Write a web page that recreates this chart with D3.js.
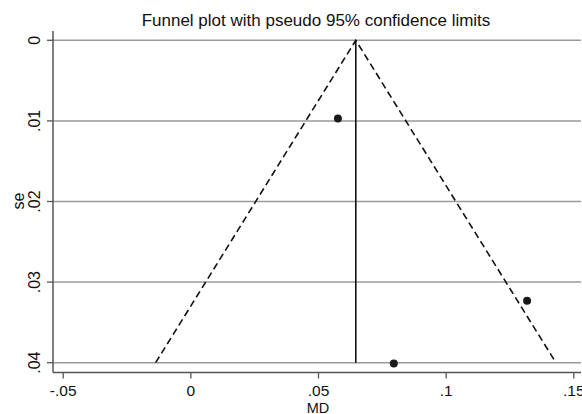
<!DOCTYPE html>
<html><head><meta charset="utf-8">
<script src="https://cdn.jsdelivr.net/npm/d3@7"></script>
<style>body{margin:0;background:#fff}svg{display:block}text{font-family:"Liberation Sans",Arial,sans-serif;fill:#111}</style>
</head><body><svg id="c" width="582" height="414"></svg>
<script>
const studyMD = [0.0578, 0.1319, 0.0797];
const studySE = [0.0097, 0.0323, 0.0401];
const pooledMD = 0.0648;
const maxSE = 0.04;
const xTicks = [-0.05, 0, 0.05, 0.1, 0.15];
const xTickLabels = ["-.05", "0", ".05", ".1", ".15"];
const yTicks = [0, 0.01, 0.02, 0.03, 0.04];
const yTickLabels = ["0", ".01", ".02", ".03", ".04"];

const svg = d3.select("#c");
const x = d3.scaleLinear().domain([-0.05, 0.15]).range([62.7, 573.3]);
const y = d3.scaleLinear().domain([0, 0.04]).range([40.3, 362.7]);
const left = 53, right = 581, axisY = 372.5, topY = 31;

// gridlines
svg.append("g").selectAll("line").data(yTicks).join("line")
  .attr("x1", left).attr("x2", right)
  .attr("y1", d => y(d)).attr("y2", d => y(d))
  .attr("stroke", "#9a9a9a").attr("stroke-width", 1.5);

// y axis
const ya = svg.append("g").attr("transform", `translate(${left},0)`)
  .call(d3.axisLeft(y).tickValues(yTicks).tickFormat((d,i)=>yTickLabels[i]).tickSize(6).tickSizeOuter(0));
ya.select(".domain").remove();
ya.selectAll(".tick").attr("transform", null);
ya.selectAll(".tick line").attr("y1", d => y(d)).attr("y2", d => y(d)).attr("x2", -6)
  .attr("stroke", "#555").attr("stroke-width", 1.3);
ya.selectAll(".tick text").attr("font-size", 16).attr("text-anchor", "middle")
  .attr("dy", null).attr("x", d => -y(d)).attr("y", -13).attr("transform", "rotate(-90)");
svg.append("line").attr("x1", left).attr("x2", left).attr("y1", topY).attr("y2", axisY)
  .attr("stroke", "#555").attr("stroke-width", 1.5);

// x axis
const xa = svg.append("g").attr("transform", `translate(0,${axisY})`)
  .call(d3.axisBottom(x).tickValues(xTicks).tickFormat((d,i)=>xTickLabels[i]).tickSize(6).tickSizeOuter(0));
xa.select(".domain").remove();
xa.selectAll("line").attr("stroke", "#555").attr("stroke-width", 1.3);
xa.selectAll("text").attr("font-size", 15.5).attr("y", 23).attr("dy", null);
svg.append("line").attr("x1", left).attr("x2", right).attr("y1", axisY).attr("y2", axisY)
  .attr("stroke", "#555").attr("stroke-width", 1.5);

// funnel
const funnel = [[pooledMD - 1.96*maxSE, maxSE], [pooledMD, 0], [pooledMD + 1.96*maxSE, maxSE]];
svg.append("path").attr("d", d3.line().x(d=>x(d[0])).y(d=>y(d[1]))(funnel))
  .attr("fill", "none").attr("stroke", "#111").attr("stroke-width", 1.6).attr("stroke-dasharray", "7,4");
svg.append("line").attr("x1", x(pooledMD)).attr("x2", x(pooledMD)).attr("y1", y(0)).attr("y2", y(maxSE))
  .attr("stroke", "#111").attr("stroke-width", 1.6);

// points
svg.append("g").selectAll("circle").data(studyMD).join("circle")
  .attr("cx", d => x(d)).attr("cy", (d,i) => y(studySE[i])).attr("r", 4).attr("fill", "#1a1a1a");

// labels
svg.append("text").attr("x", 316).attr("y", 26).attr("text-anchor", "middle").attr("font-size", 17)
  .text("Funnel plot with pseudo 95% confidence limits");
svg.append("text").attr("x", 318).attr("y", 412.5).attr("text-anchor", "middle").attr("font-size", 14.5).text("MD");
svg.append("text").attr("transform", "translate(23.5,201) rotate(-90)").attr("text-anchor", "middle").attr("font-size", 16).text("se");
</script></body></html>
